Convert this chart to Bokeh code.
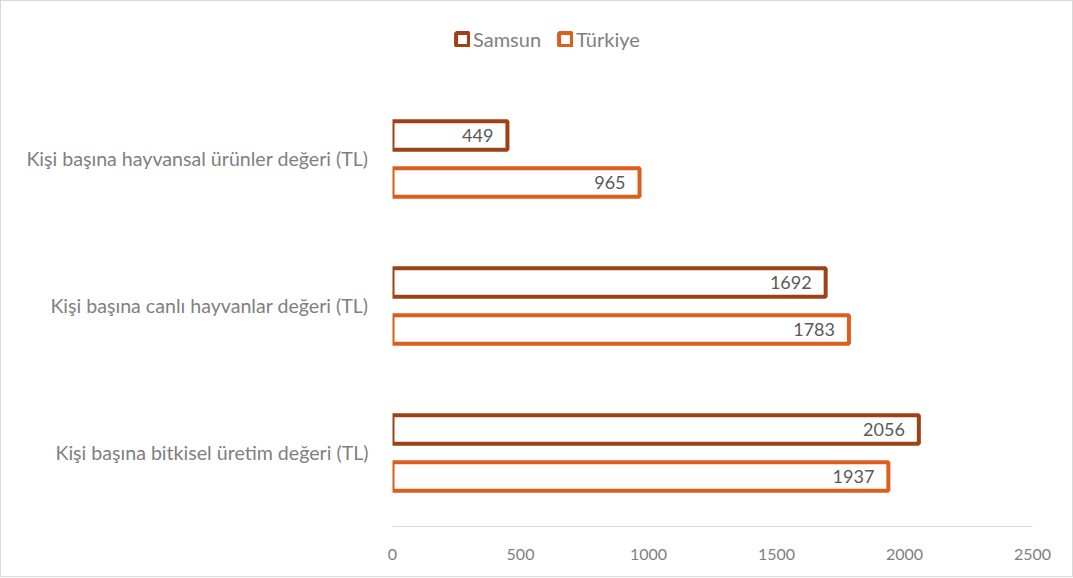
from bokeh.plotting import figure
from bokeh.models import ColumnDataSource, Range1d, LabelSet, Legend, LegendItem
from bokeh.transform import dodge
from bokeh.core.properties import value
from bokeh.embed import file_html
from bokeh.resources import INLINE

categories = ["Kişi başına bitkisel üretim değeri (TL)",
              "Kişi başına canlı hayvanlar değeri (TL)",
              "Kişi başına hayvansal ürünler değeri (TL)"]
samsun = [2056, 1692, 449]
turkiye = [1937, 1783, 965]
x_ticks = [0, 500, 1000, 1500, 2000, 2500]

SAMSUN_COLOR = "#9C4214"
TURKIYE_COLOR = "#DD5E1C"
FONT = "Lato"

ypos = list(range(len(categories)))
src = ColumnDataSource(dict(y=ypos, samsun=samsun, turkiye=turkiye,
                            samsun_lbl=[str(v) for v in samsun],
                            turkiye_lbl=[str(v) for v in turkiye]))

p = figure(x_range=Range1d(0, 2500), y_range=Range1d(-0.5, 2.976),
           frame_width=640, frame_height=511,
           min_border_left=391, min_border_top=14, min_border_right=40, min_border_bottom=50,
           output_backend="svg", toolbar_location=None)
p.styles = {"border": "1px solid #d9d9d9"}

r1 = p.hbar(y=dodge("y", 0.16), right="samsun", left=0, height=0.195,
            source=src, fill_color="white", line_color=SAMSUN_COLOR, line_width=4)
r2 = p.hbar(y=dodge("y", -0.16), right="turkiye", left=0, height=0.195,
            source=src, fill_color="white", line_color=TURKIYE_COLOR, line_width=4)

for col, lbl, off in [("samsun", "samsun_lbl", 0.16), ("turkiye", "turkiye_lbl", -0.16)]:
    ls = LabelSet(x=col, y=dodge("y", off), text=lbl, source=src,
                  x_offset=-14, text_align="right", text_baseline="middle",
                  text_font=value(FONT), text_font_size="18px", text_color="#595959")
    p.add_layout(ls)

p.xgrid.grid_line_color = None
p.ygrid.grid_line_color = None
p.outline_line_color = None

p.xaxis.ticker = x_ticks
p.xaxis.axis_line_color = "#D9D9D9"
p.xaxis.axis_line_width = 1
p.xaxis.major_tick_line_color = None
p.xaxis.minor_tick_line_color = None
p.xaxis.major_label_text_font = FONT
p.xaxis.major_label_text_font_size = "16px"
p.xaxis.major_label_text_color = "#7F7F7F"
p.xaxis.major_label_standoff = 16

p.yaxis.ticker = ypos
p.yaxis.major_label_overrides = {i: c for i, c in zip(ypos, categories)}
p.yaxis.axis_line_color = None
p.yaxis.major_tick_line_color = None
p.yaxis.minor_tick_line_color = None
p.yaxis.major_label_text_font = FONT
p.yaxis.major_label_text_font_size = "19.6px"
p.yaxis.major_label_text_color = "#7F7F7F"
p.yaxis.major_label_standoff = 18

legend = Legend(items=[LegendItem(label="Samsun", renderers=[r1]),
                       LegendItem(label="Türkiye", renderers=[r2])],
                orientation="horizontal", location=(62, 475),
                glyph_width=16, glyph_height=16, spacing=16, label_standoff=3,
                label_text_font=FONT, label_text_font_size="20px", label_text_color="#7F7F7F",
                background_fill_alpha=0, border_line_color=None, padding=0, margin=0)
p.add_layout(legend, "center")

open("out.html", "w").write(file_html(p, INLINE))
